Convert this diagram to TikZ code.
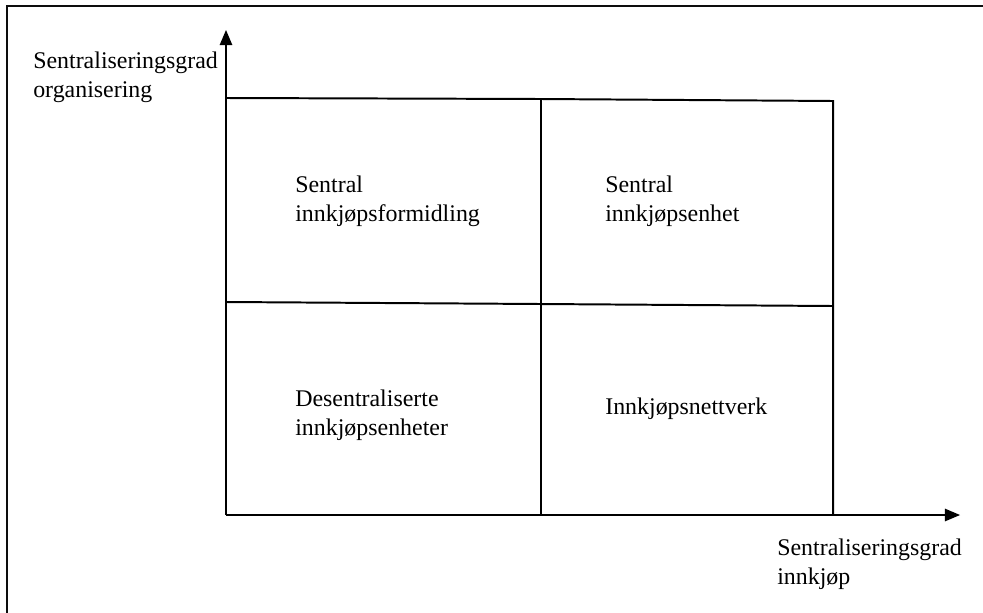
\documentclass[tikz,border=0pt]{standalone}
\usepackage{fontspec}
\setmainfont{Liberation Serif}
\usepackage{tikz}
\usetikzlibrary{arrows}
\definecolor{qqqqqq}{rgb}{0.05,0.05,0.05}
\tikzset{lbl/.style={align=left,anchor=north west,inner sep=0pt,font=\fontsize{17}{20.5}\selectfont}}

\begin{document}
\begin{tikzpicture}[line cap=butt,line join=miter,>=triangle 45,x=0.025cm,y=-0.025cm]
\useasboundingbox (0,0) rectangle (983,612);
% frame
\draw [line width=2pt,color=qqqqqq] (7,620)-- (7,6)-- (990,6);
% axes
\coordinate (O) at (226,515);
\coordinate (Y) at (226,30);
\coordinate (X) at (960,515);
\draw [->,line width=1.5pt] (O)-- (Y);
\draw [->,line width=1.5pt] (O)-- (X);
% grid
\coordinate (TL) at (226,98);
\coordinate (TM) at (541,99);
\coordinate (TR) at (833,101);
\coordinate (ML) at (226,302);
\coordinate (MM) at (541,304);
\coordinate (MR) at (833,306);
\coordinate (BM) at (541,515);
\coordinate (BR) at (833,515);
\draw [line width=1.4pt] (TL)-- (TM)-- (TR)-- (MR)-- (BR);
\draw [line width=1.4pt] (ML)-- (MM)-- (MR);
\draw [line width=1.4pt] (TM)-- (MM)-- (BM);
% texts
\node[lbl] (yl) at (33,52) {Sentraliseringsgrad\\organisering};
\node[lbl] (xl) at (777,539) {Sentraliseringsgrad\\innkjøp};
\node[lbl] (c1) at (295,176) {Sentral\\innkjøpsformidling};
\node[lbl] (c2) at (605,176) {Sentral\\innkjøpsenhet};
\node[lbl] (c3) at (295,390) {Desentraliserte\\innkjøpsenheter};
\node[lbl] (c4) at (605,398) {Innkjøpsnettverk};
\end{tikzpicture}
\end{document}
